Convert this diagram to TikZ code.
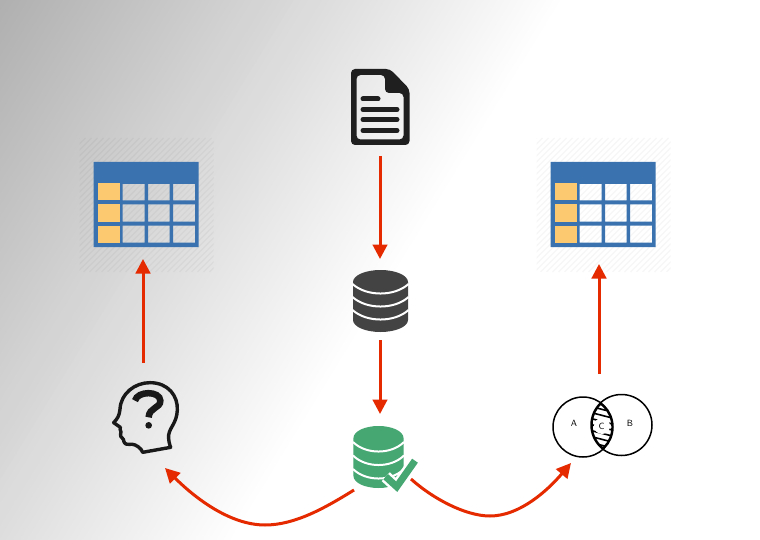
\documentclass[tikz,border=0pt]{standalone}
\usetikzlibrary{arrows.meta}
\definecolor{flow}{HTML}{E52A00}
\definecolor{tblblue}{HTML}{3A72B0}
\definecolor{tblorange}{HTML}{FDC970}
\definecolor{dbdark}{HTML}{434343}
\definecolor{dbgreen}{HTML}{46A773}
\definecolor{inkdark}{HTML}{1F1F1F}
\tikzset{
  iconbox/.style={inner sep=0pt,outer sep=0pt},
  connector/.style={draw=flow,line width=3pt,-{Triangle[width=14.5pt,length=14.5pt]}},
  hatchline/.style={black,opacity=0.035,line width=1.2pt},
  vennlabel/.style={font=\sffamily\fontsize{9}{9}\selectfont,inner sep=0pt},
  datatable/.pic={
    \begin{scope}
      \clip (0,0) rectangle (134,134);
      \foreach \h in {0,6,...,270} \draw[hatchline] (\h,0) -- (\h-134,134);
    \end{scope}
    \fill[tblblue,even odd rule] (14,24) rectangle (119,109)
      (43,46) rectangle (65,62.5) (68.5,46) rectangle (90,62.5) (93.5,46) rectangle (115.5,62.5)
      (43,66.5) rectangle (65,83.5) (68.5,66.5) rectangle (90,83.5) (93.5,66.5) rectangle (115.5,83.5)
      (43,87.5) rectangle (65,104.5) (68.5,87.5) rectangle (90,104.5) (93.5,87.5) rectangle (115.5,104.5);
    \fill[tblorange] (18,45.5) rectangle (40,62.5);
    \fill[tblorange] (18,66.5) rectangle (40,83.5);
    \fill[tblorange] (18,87.5) rectangle (40,104.5);
  },
  database/.pic={
    \fill[pic actions] (-27.5,0) arc[start angle=180,end angle=360,x radius=27.5,y radius=12]
      -- (27.5,38) arc[start angle=0,end angle=180,x radius=27.5,y radius=12] -- cycle;
    \foreach \d in {#1}
      \draw[white,line width=2pt] (-28,\d) .. controls (-14,\d+12.7) and (14,\d+12.7) .. (28,\d);
  }
}
\begin{document}
\begin{tikzpicture}[x=1pt,y=-1pt]
\useasboundingbox (0,0) rectangle (760,540);
% background gradient
\fill[white] (0,0) rectangle (760,540);
\begin{scope}
  \clip (0,0) rectangle (760,540);
  \foreach \i in {0,...,79}{
    \pgfmathsetmacro{\T}{478*(1-\i/80)}
    \pgfmathsetmacro{\p}{31*(\i+1)/80}
    \fill[black!\p] (-1,-1) -- (\T/0.853,-1) -- (-1,\T/0.5215) -- cycle;
  }
\end{scope}
% layout boxes
\node[iconbox,minimum width=70pt,minimum height=98pt] (doc) at (380,107) {};
\node[iconbox,minimum width=56pt,minimum height=81pt] (rawdb) at (380,299.5) {};
\node[iconbox,minimum width=57pt,minimum height=76pt] (cleandb) at (382.5,452) {};
\node[iconbox,minimum width=100pt,minimum height=110pt] (tableL) at (143,204) {};
\node[iconbox,minimum width=100pt,minimum height=110pt] (tableR) at (599,209) {};
\node[iconbox,minimum width=66pt,minimum height=105pt] (head) at (143,415.5) {};
\node[iconbox,minimum width=100pt,minimum height=80pt] (venn) at (599,414) {};
% tables
\pic at (79.5,138) {datatable};
\pic at (536.5,138) {datatable};
% document
\fill[inkdark,even odd rule,rounded corners=4pt]
  (351,69) -- (390,69) -- (409.5,89) -- (409.5,145) -- (351,145) -- cycle
  (356.5,75) -- (385,75) -- (385,93) -- (403.5,93) -- (403.5,139.5) -- (356.5,139.5) -- cycle;
\draw[inkdark,line width=5pt,line cap=round]
  (363,99) -- (378,99) (363,109.5) -- (397,109.5) (363,119.5) -- (397,119.5) (363,130.5) -- (397,130.5);
% databases
\pic[dbdark] at (380.5,282) {database={2,15,28}};
\pic[dbgreen,xscale=0.91] at (378.5,438) {database={4,17.5,31}};
% check mark
\draw[white,line width=12pt,miter limit=10] (385.7,476.7) -- (396.7,486.7) -- (415,460.7);
\draw[dbgreen,line width=7pt,miter limit=10] (385.7,476.7) -- (396.7,486.7) -- (415,460.7);
% head
\begin{scope}[shift={(100,370)},scale=0.3333]
  \draw[black!90,line width=3.4pt,line join=round]
    (128,247) -- (123,238) .. controls (112,226) and (100,221) .. (88,223)
    .. controls (76,224) and (72,220) .. (70,208)
    .. controls (62,204) and (60,196) .. (63,186)
    .. controls (60,180) and (60,176) .. (61,172)
    -- (41,158) .. controls (52,146) and (58,138) .. (60,118)
    .. controls (62,70) and (105,38) .. (150,38)
    .. controls (205,38) and (234,78) .. (232,120)
    .. controls (230,160) and (210,170) .. (206,195)
    .. controls (205,210) and (208,222) .. (212,232) -- cycle;
  \draw[black!90,line width=6.5pt,line cap=butt]
    (105,92) .. controls (112,62) and (180,62) .. (181,92)
    .. controls (182,115) and (147,112) .. (146,142);
  \fill[black!90] (146,166) circle[radius=10];
\end{scope}
% venn
\begin{scope}
  \clip (583,427) circle[radius=30];
  \clip (621.5,425) circle[radius=30.5];
  \foreach \y in {396,402,...,456}
    \draw[black,line width=1.6pt] (585,\y-3) -- (620,\y+6);
  \fill[white] (602,426) ellipse[x radius=8,y radius=8];
  \draw[black,line width=3.4pt] (583,427) circle[radius=30];
  \draw[black,line width=3.4pt] (621.5,425) circle[radius=30.5];
\end{scope}
\draw[black,line width=1.5pt] (583,427) circle[radius=30];
\draw[black,line width=1.5pt] (621.5,425) circle[radius=30.5];
\node[vennlabel] (la) at (574,423) {A};
\node[vennlabel] (lc) at (601.5,426) {C};
\node[vennlabel] (lb) at (630,423) {B};
% connectors
\draw[connector] (doc.south) -- (rawdb.north);
\draw[connector] (rawdb.south) -- (rawdb.south |- cleandb.north);
\draw[connector] (head.north) -- (tableL.south);
\draw[connector] (venn.north) -- (tableR.south);
\coordinate (lowL) at (265,525);
\coordinate (lowR) at (490,516);
\draw[connector] (cleandb.south west) .. controls (325,508) and (295,525) .. (lowL)
  .. controls (230,525) and (195,498) .. ([xshift=-11pt]head.south east);
\draw[connector] ([yshift=11pt]cleandb.south east) .. controls (432,498) and (465,516) .. (lowR)
  .. controls (520,516) and (548,490) .. ([xshift=-78pt,yshift=-9pt]venn.south east);
\end{tikzpicture}
\end{document}
